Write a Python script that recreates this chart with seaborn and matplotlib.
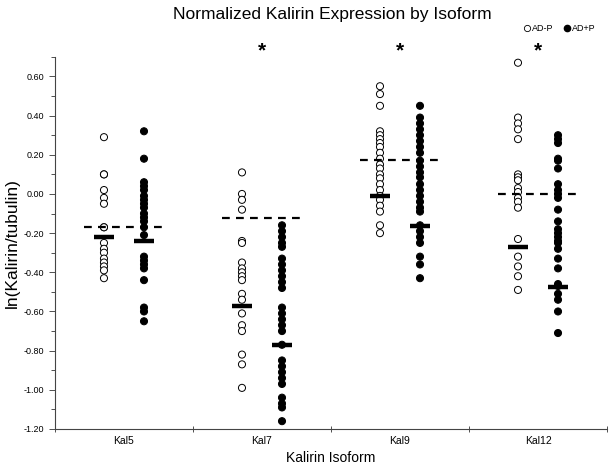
import numpy as np
import pandas as pd
import matplotlib
matplotlib.use("Agg")
import matplotlib.pyplot as plt
from matplotlib.lines import Line2D
from matplotlib.ticker import MultipleLocator, FormatStrFormatter
import seaborn as sns

# isoforms and groups
isoforms = ["Kal5", "Kal7", "Kal9", "Kal12"]
groups = ["AD-P", "AD+P"]

# ln(Kalirin/tubulin) per subject
kal5_adp = [0.29, 0.10, 0.10, 0.02, -0.02, -0.05, -0.17, -0.17, -0.25, -0.28,
            -0.30, -0.33, -0.35, -0.37, -0.39, -0.43]
kal5_adpp = [0.32, 0.18, 0.06, 0.04, 0.02, -0.01, -0.03, -0.05, -0.07, -0.10,
             -0.12, -0.14, -0.17, -0.21, -0.32, -0.34, -0.36, -0.38, -0.44,
             -0.58, -0.60, -0.65]
kal7_adp = [0.11, 0.00, -0.03, -0.08, -0.24, -0.25, -0.35, -0.38, -0.40, -0.42,
            -0.44, -0.51, -0.54, -0.61, -0.67, -0.70, -0.82, -0.87, -0.99]
kal7_adpp = [-0.16, -0.19, -0.22, -0.25, -0.27, -0.33, -0.36, -0.39, -0.42,
             -0.45, -0.48, -0.58, -0.61, -0.64, -0.67, -0.70, -0.77, -0.85,
             -0.88, -0.91, -0.94, -0.97, -1.04, -1.07, -1.09, -1.16]
kal9_adp = [0.55, 0.51, 0.45, 0.32, 0.30, 0.28, 0.26, 0.24, 0.21, 0.18, 0.15,
            0.13, 0.10, 0.08, 0.05, 0.02, -0.01, -0.03, -0.06, -0.09, -0.16, -0.20]
kal9_adpp = [0.45, 0.39, 0.36, 0.33, 0.30, 0.27, 0.24, 0.21, 0.17, 0.14, 0.11,
             0.085, 0.05, 0.02, -0.01, -0.04, -0.07, -0.09, -0.16, -0.19, -0.22,
             -0.25, -0.32, -0.36, -0.43]
kal12_adp = [0.67, 0.39, 0.36, 0.33, 0.28, 0.10, 0.085, 0.07, 0.03, 0.01, -0.02,
             -0.04, -0.07, -0.23, -0.32, -0.37, -0.42, -0.49]
kal12_adpp = [0.30, 0.28, 0.26, 0.18, 0.17, 0.13, 0.05, 0.02, 0.00, -0.02, -0.08,
              -0.14, -0.18, -0.20, -0.22, -0.24, -0.25, -0.28, -0.33, -0.38,
              -0.46, -0.47, -0.51, -0.54, -0.60, -0.71]

# group summary bars and the dashed reference level per isoform
bar_adp = [-0.22, -0.57, -0.01, -0.27]
bar_adpp = [-0.24, -0.77, -0.165, -0.475]
ref_level = [-0.17, -0.125, 0.175, 0.00]
signif = ["", "*", "*", "*"]

yticks = [-1.2, -1.0, -0.8, -0.6, -0.4, -0.2, 0.0, 0.2, 0.4, 0.6]

raw = {
    ("Kal5", "AD-P"): kal5_adp, ("Kal5", "AD+P"): kal5_adpp,
    ("Kal7", "AD-P"): kal7_adp, ("Kal7", "AD+P"): kal7_adpp,
    ("Kal9", "AD-P"): kal9_adp, ("Kal9", "AD+P"): kal9_adpp,
    ("Kal12", "AD-P"): kal12_adp, ("Kal12", "AD+P"): kal12_adpp,
}
offset = {"AD-P": -0.145, "AD+P": 0.145}

rows = []
for (iso, grp), vals in raw.items():
    for v in vals:
        rows.append({"isoform": iso, "group": grp, "value": v,
                     "pos": isoforms.index(iso) + offset[grp]})
df = pd.DataFrame(rows)

sns.set_style("ticks")
plt.rcParams["font.family"] = ["Liberation Sans", "DejaVu Sans"]
plt.rcParams["axes.unicode_minus"] = False
plt.rcParams["text.color"] = "black"
plt.rcParams["axes.labelcolor"] = "black"
plt.rcParams["xtick.color"] = "#333333"
plt.rcParams["ytick.color"] = "#333333"
plt.rcParams["xtick.labelcolor"] = "black"
plt.rcParams["ytick.labelcolor"] = "black"

fig = plt.figure(figsize=(6.15, 4.66), dpi=100)
ax = fig.add_axes([0.0894, 0.0794, 0.8976, 0.7986])

sns.scatterplot(data=df, x="pos", y="value", hue="group",
                palette={"AD-P": "white", "AD+P": "black"},
                edgecolor="black", linewidth=0.7, s=26, legend=False, ax=ax,
                zorder=2)

xs = np.arange(len(isoforms))
ax.hlines(bar_adp, xs + offset["AD-P"] - 0.07, xs + offset["AD-P"] + 0.07,
          color="black", lw=3.2, zorder=4)
ax.hlines(bar_adpp, xs + offset["AD+P"] - 0.07, xs + offset["AD+P"] + 0.07,
          color="black", lw=3.2, zorder=4)
ax.hlines(ref_level, xs - 0.29, xs + 0.29, color="black", lw=1.6,
          linestyles=(0, (3.5, 2.8)), zorder=3)

for i, s in enumerate(signif):
    if s:
        ax.text(i, 0.68, s, ha="center", va="bottom", fontsize=15,
                fontweight="bold", clip_on=False)

ax.set_xlim(-0.5, 3.5)
ax.set_ylim(-1.2, 0.7)
ax.set_xticks(np.arange(-0.5, 4, 1.0))
ax.set_xticklabels([])
ax.set_xticks(xs, minor=True)
ax.set_xticklabels(isoforms, minor=True, fontsize=7.5)
ax.tick_params(axis="x", which="major", direction="inout", length=4, width=0.6)
ax.tick_params(axis="x", which="minor", length=0, pad=5)
ax.set_yticks(yticks)
ax.yaxis.set_major_formatter(FormatStrFormatter("%.2f"))
ax.yaxis.set_minor_locator(MultipleLocator(0.1))
ax.tick_params(axis="y", which="major", length=4, width=0.6, labelsize=6.5)
ax.tick_params(axis="y", which="minor", length=3, width=0.6)

for sp in ["top", "right"]:
    ax.spines[sp].set_visible(False)
for sp in ["left", "bottom"]:
    ax.spines[sp].set_color("#444444")
    ax.spines[sp].set_linewidth(0.8)

ax.set_xlabel("Kalirin Isoform", fontsize=10, labelpad=4)
ax.set_ylabel("ln(Kalirin/tubulin)", fontsize=12.5, labelpad=3)
fig.suptitle("Normalized Kalirin Expression by Isoform", x=0.54, y=0.985,
             fontsize=12.5)

handles = [Line2D([], [], marker="o", ls="", mfc="white", mec="black",
                  mew=0.6, ms=4.5),
           Line2D([], [], marker="o", ls="", mfc="black", mec="black", ms=4.5)]
fig.legend(handles, groups, loc="center right", bbox_to_anchor=(0.975, 0.938),
           ncol=2, frameon=False, fontsize=6.5, handletextpad=-0.1,
           columnspacing=0.9, borderpad=0, handlelength=1.2)

fig.savefig("out.png", dpi=100)
